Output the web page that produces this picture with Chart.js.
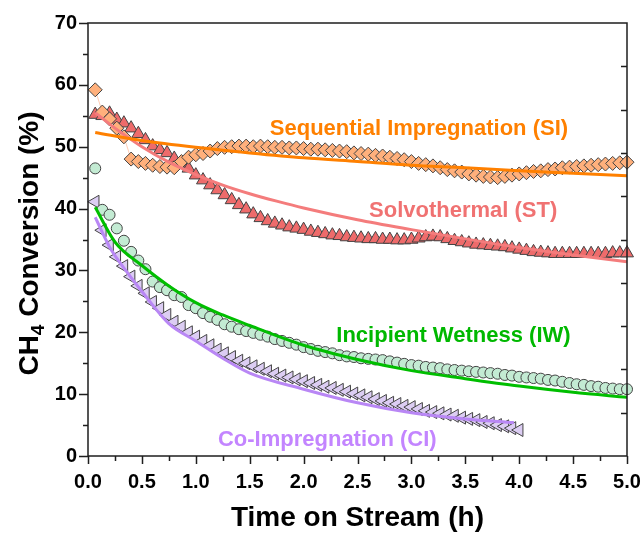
<!DOCTYPE html>
<html lang="en">
<head>
<meta charset="UTF-8">
<title>CH4 Conversion vs Time on Stream</title>
<script src="https://cdn.jsdelivr.net/npm/chart.js@4.4.1/dist/chart.umd.min.js"></script>
<style>
    body { margin: 0; background: #fff; }
</style>
</head>
<body>
<canvas id="convChart" width="641" height="533"></canvas>
<script>
// sampling times (h), one GC injection every 4 min
const timeH = [
    0.067, 0.133, 0.2, 0.267, 0.333, 0.4, 0.467, 0.533, 0.6, 0.667, 0.733, 0.8, 0.867, 0.933, 1.0,
    1.067, 1.133, 1.2, 1.267, 1.333, 1.4, 1.467, 1.533, 1.6, 1.667, 1.733, 1.8, 1.867, 1.933, 2.0,
    2.067, 2.133, 2.2, 2.267, 2.333, 2.4, 2.467, 2.533, 2.6, 2.667, 2.733, 2.8, 2.867, 2.933, 3.0,
    3.067, 3.133, 3.2, 3.267, 3.333, 3.4, 3.467, 3.533, 3.6, 3.667, 3.733, 3.8, 3.867, 3.933, 4.0,
    4.067, 4.133, 4.2, 4.267, 4.333, 4.4, 4.467, 4.533, 4.6, 4.667, 4.733, 4.8, 4.867, 4.933, 5.0
];

// measured conversion (%)
const siConv = [
    59.2, 55.6, 54.5, 53.0, 51.6, 48.0, 47.6, 47.3, 47.0, 46.8, 46.7, 46.6, 47.6, 48.3, 48.7,
    48.9, 49.3, 49.7, 49.9, 50.0, 50.1, 50.1, 50.0, 50.1, 50.0, 49.9, 49.9, 49.8, 49.8, 49.7,
    49.6, 49.6, 49.5, 49.4, 49.3, 49.2, 49.0, 48.9, 48.8, 48.6, 48.5, 48.3, 48.1, 47.9, 47.6,
    47.3, 47.1, 46.9, 46.6, 46.3, 46.1, 45.9, 45.6, 45.4, 45.2, 45.1, 45.0, 45.2, 45.4, 45.6,
    45.8, 46.0, 46.1, 46.3, 46.4, 46.6, 46.7, 46.8, 46.9, 47.0, 47.1, 47.2, 47.3, 47.4, 47.5
];
const stConv = [
    55.2, 55.0, 55.4, 54.4, 53.8, 53.0, 52.1, 51.1, 50.1, 49.5, 49.0, 48.1, 47.3, 46.5, 45.4,
    44.6, 43.8, 43.0, 42.2, 41.4, 40.6, 39.9, 39.1, 38.5, 38.0, 37.6, 37.3, 37.0, 36.8, 36.6,
    36.3, 36.1, 35.9, 35.7, 35.6, 35.4, 35.3, 35.2, 35.1, 35.1, 35.0, 35.0, 34.9, 34.9, 35.0,
    35.2, 35.4, 35.5, 35.4, 35.1, 34.8, 34.6, 34.4, 34.2, 34.1, 34.0, 33.9, 33.8, 33.6, 33.4,
    33.2, 33.0, 32.9, 32.8, 32.7, 32.7, 32.7, 32.7, 32.7, 32.7, 32.7, 32.7, 32.8, 32.8, 32.8
];
const iwConv = [
    46.5, 39.8, 39.0, 36.8, 34.8, 33.0, 31.6, 30.2, 28.2, 27.3, 26.8, 26.0, 25.7, 24.4, 23.9,
    23.1, 22.5, 22.0, 21.3, 20.9, 20.5, 20.2, 19.9, 19.6, 19.3, 18.9, 18.6, 18.3, 18.0, 17.6,
    17.3, 17.0, 16.8, 16.6, 16.3, 16.1, 16.0, 15.8, 15.7, 15.6, 15.5, 15.3, 15.1, 14.9, 14.7,
    14.6, 14.4, 14.3, 14.2, 14.0, 13.9, 13.8, 13.7, 13.6, 13.5, 13.4, 13.3, 13.1, 13.0, 12.8,
    12.7, 12.6, 12.5, 12.3, 12.2, 12.0, 11.8, 11.6, 11.5, 11.3, 11.2, 11.0, 10.9, 10.8, 10.8
];
// co-impregnation was run for 4 h only
const ciConv = [
    41.1, 36.5, 34.1, 32.2, 30.7, 29.0, 27.5, 26.3, 24.9, 23.9, 22.8, 21.7, 20.9, 20.0, 19.3,
    18.6, 17.9, 17.2, 16.6, 16.0, 15.4, 15.0, 14.5, 14.1, 13.7, 13.3, 13.0, 12.7, 12.4, 12.1,
    11.8, 11.5, 11.2, 11.0, 10.7, 10.4, 10.1, 9.8, 9.5, 9.2, 8.9, 8.6, 8.4, 8.1, 7.9,
    7.6, 7.3, 7.1, 6.9, 6.7, 6.5, 6.2, 6.0, 5.8, 5.5, 5.3, 5.0, 4.8, 4.5, 4.2
];

// deactivation fits
const siFitT = [0.067, 0.5, 1.0, 1.5, 2.0, 2.5, 3.0, 3.5, 4.0, 4.5, 5.0];
const siFitY = [52.3, 51.0, 49.9, 49.0, 48.2, 47.6, 47.0, 46.6, 46.1, 45.7, 45.3];
const stFitT = [0.067, 0.25, 0.5, 0.75, 1.0, 1.25, 1.5, 1.75, 2.0, 2.5, 3.0, 3.5, 4.0, 4.5, 5.0];
const stFitY = [55.5, 53.0, 50.0, 47.5, 45.5, 43.8, 42.4, 41.2, 40.1, 38.2, 36.6, 35.1, 33.7, 32.5, 31.4];
const iwFitT = [0.067, 0.25, 0.5, 0.75, 1.0, 1.25, 1.5, 2.0, 2.5, 3.0, 3.5, 4.0, 4.5, 5.0];
const iwFitY = [40.2, 34.6, 30.8, 27.5, 24.8, 22.8, 21.1, 17.9, 15.6, 13.8, 12.5, 11.3, 10.3, 9.5];
const ciFitT = [0.067, 0.2, 0.35, 0.5, 0.75, 1.0, 1.25, 1.5, 2.0, 2.5, 3.0, 3.5, 3.95];
const ciFitY = [38.6, 33.8, 30.0, 26.6, 21.4, 18.6, 15.8, 13.4, 10.8, 8.6, 7.0, 6.0, 5.4];

const FONT = '"Liberation Sans", Arial, sans-serif';

// text labels next to the curves (x in h, y in % at baseline)
const curveLabels = [
    { text: 'Sequential Impregnation (SI)', x: 3.07, y: 51.9, color: '#ff8000' },
    { text: 'Solvothermal (ST)', x: 3.48, y: 38.6, color: '#f07272' },
    { text: 'Incipient Wetness (IW)', x: 3.39, y: 18.5, color: '#00b800' },
    { text: 'Co-Impregnation (CI)', x: 2.22, y: 1.6, color: '#c385ff' }
];

function pairs(xs, ys) {
    return ys.map((v, i) => ({ x: xs[i], y: v }));
}

function markerSet(label, values, fill, style, radius, rotation) {
    return {
        type: 'scatter',
        label: label,
        data: pairs(timeH, values),
        pointStyle: style,
        pointRadius: radius,
        pointRotation: rotation || 0,
        pointBackgroundColor: fill,
        pointBorderColor: '#444',
        pointBorderWidth: 1,
        showLine: false,
        clip: false,
        order: 1
    };
}

function fitSet(label, xs, ys, color) {
    return {
        type: 'line',
        label: label,
        data: pairs(xs, ys),
        borderColor: color,
        borderWidth: 3,
        pointRadius: 0,
        cubicInterpolationMode: 'monotone',
        fill: false,
        order: 0
    };
}

// ticks, frame, axis titles and curve labels
const decorPlugin = {
    id: 'decor',
    afterDraw(chart) {
        const c = chart.ctx;
        const a = chart.chartArea;
        const xs = chart.scales.x, ys = chart.scales.y;
        c.save();
        c.strokeStyle = '#1e1e1e';
        c.lineWidth = 1.5;
        c.strokeRect(a.left, a.top, a.right - a.left, a.bottom - a.top);

        c.beginPath();
        for (let v = 0; v <= 70; v += 5) {
            const y = Math.round(ys.getPixelForValue(v)) + 0.5;
            const len = v % 10 === 0 ? 9 : 5;
            c.moveTo(a.left, y); c.lineTo(a.left - len, y);
        }
        for (let k = 0; k <= 20; k++) {
            const x = Math.round(xs.getPixelForValue(k * 0.25)) + 0.5;
            const len = k % 2 === 0 ? 8 : 5;
            c.moveTo(x, a.bottom); c.lineTo(x, a.bottom + len);
        }
        // right axis: ten inward divisions
        for (let k = 1; k < 10; k++) {
            const y = Math.round(ys.getPixelForValue(k * 7)) + 0.5;
            c.moveTo(a.right, y); c.lineTo(a.right - 6, y);
        }
        c.stroke();

        c.font = 'bold 22px ' + FONT;
        c.textAlign = 'center';
        c.textBaseline = 'alphabetic';
        curveLabels.forEach(l => {
            c.fillStyle = l.color;
            c.fillText(l.text, xs.getPixelForValue(l.x), ys.getPixelForValue(l.y));
        });

        c.fillStyle = '#000';
        c.font = 'bold 28px ' + FONT;
        c.fillText('Time on Stream (h)', (a.left + a.right) / 2, 526);

        // y title with subscript
        c.translate(38, (a.top + a.bottom) / 2 + 4);
        c.rotate(-Math.PI / 2);
        c.textAlign = 'left';
        const big = 'bold 28px ' + FONT, small = 'bold 19px ' + FONT;
        c.font = big; const w1 = c.measureText('CH').width;
        c.font = small; const w2 = c.measureText('4').width;
        c.font = big; const w3 = c.measureText(' Conversion (%)').width;
        let x0 = -(w1 + w2 + w3) / 2;
        c.fillText('CH', x0, 0);
        c.font = small; c.fillText('4', x0 + w1, 6);
        c.font = big; c.fillText(' Conversion (%)', x0 + w1 + w2, 0);
        c.restore();
    }
};

const tickFont = { family: FONT, size: 20, weight: 'bold' };

new Chart(document.getElementById('convChart'), {
    type: 'scatter',
    data: {
        datasets: [
            fitSet('SI fit', siFitT, siFitY, '#ff8000'),
            fitSet('ST fit', stFitT, stFitY, '#f47c7c'),
            fitSet('IW fit', iwFitT, iwFitY, '#00be00'),
            fitSet('CI fit', ciFitT, ciFitY, '#b987f5'),
            Object.assign(markerSet('SI', siConv, '#ffb07c', 'rectRot', 7),
                { showLine: true, borderColor: 'rgba(255,170,130,0.6)', borderWidth: 1 }),
            markerSet('ST', stConv, '#ee6b6b', 'triangle', 7.5),
            markerSet('IW', iwConv, '#c3ebd3', 'circle', 5.5),
            markerSet('CI', ciConv, '#dccdf3', 'triangle', 7.5, -90)
        ]
    },
    options: {
        responsive: false,
        animation: false,
        layout: { padding: { top: 23, right: 14, left: 0, bottom: 0 } },
        plugins: { legend: { display: false }, tooltip: { enabled: false } },
        scales: {
            x: {
                type: 'linear', min: 0, max: 5,
                ticks: { stepSize: 0.5, callback: v => v.toFixed(1), font: tickFont, color: '#000', padding: 14, maxRotation: 0, autoSkip: false },
                grid: { display: false, drawTicks: false },
                border: { display: false },
                afterFit: s => { s.height = 77; s.paddingLeft = 0; s.paddingRight = 0; }
            },
            y: {
                min: 0, max: 70,
                ticks: { stepSize: 10, font: tickFont, color: '#000', padding: 11 },
                grid: { display: false, drawTicks: false },
                border: { display: false },
                afterFit: s => { s.width = 88; s.paddingTop = 0; s.paddingBottom = 0; }
            }
        }
    },
    plugins: [decorPlugin]
});
</script>
</body>
</html>
